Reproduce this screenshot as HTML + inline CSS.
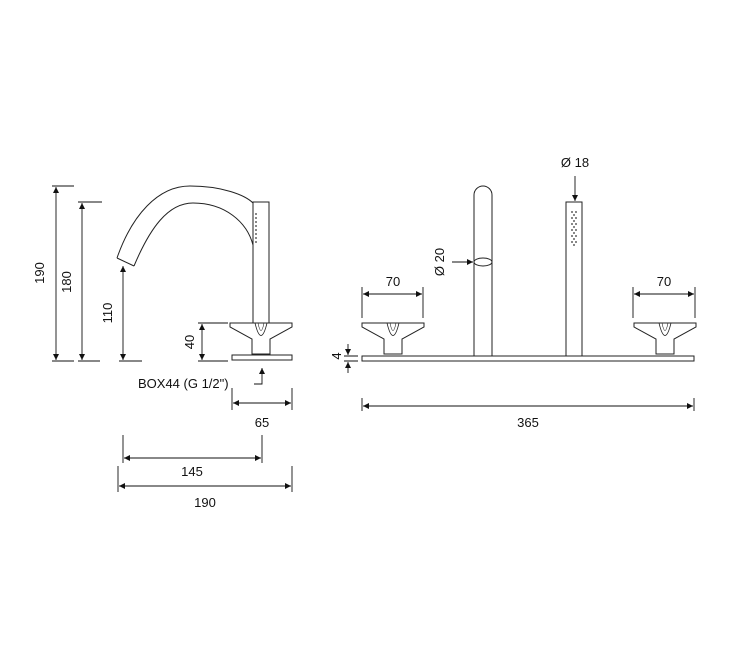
<!DOCTYPE html>
<html><head><meta charset="utf-8"><style>
html,body{margin:0;padding:0;background:#fff;}
svg{display:block;}
text{font-family:"Liberation Sans",sans-serif;font-size:13px;fill:#111;}
</style></head><body>
<svg width="744" height="648" viewBox="0 0 744 648" xmlns="http://www.w3.org/2000/svg">
<defs>
<marker id="a" viewBox="0 0 10 10" refX="10" refY="5" markerWidth="8" markerHeight="6" orient="auto-start-reverse" markerUnits="userSpaceOnUse"><path d="M0,0 L10,5 L0,10 Z" fill="#111"/></marker>
<g id="h">
<path d="M-31,323 H31 V327 L9,339 V354 H-9 V339 L-31,327 Z" fill="#fff" stroke="#222" stroke-width="1"/>
<path d="M-6,323 Q0,348 6,323" fill="none" stroke="#222" stroke-width="0.8"/>
<path d="M-3,323 Q0,338 3,323" fill="none" stroke="#222" stroke-width="0.6"/>
</g>
</defs>
<g stroke="#222" stroke-width="1" fill="none">
<path d="M117,258 C132,215 158,186 190,186 C222,186 245,195 253,203"/>
<path d="M134,266 C150,228 168,203 193,203 C225,203 247,222 253,245"/>
<path d="M117,258 L134,266"/>
<rect x="253" y="202" width="16" height="152" fill="#fff"/>
<use href="#h" x="261"/>
<rect x="232" y="355" width="60" height="5" fill="#fff"/>
</g>
<g fill="#333"><circle cx="256" cy="214" r="0.9"/><circle cx="256" cy="218" r="0.9"/><circle cx="256" cy="222" r="0.9"/><circle cx="256" cy="226" r="0.9"/><circle cx="256" cy="230" r="0.9"/><circle cx="256" cy="234" r="0.9"/><circle cx="256" cy="238" r="0.9"/><circle cx="256" cy="242" r="0.9"/></g>
<g stroke="#111" stroke-width="0.9" fill="none">
<path d="M52,186 H74 M52,361 H74"/>
<line x1="56" y1="187" x2="56" y2="360" marker-start="url(#a)" marker-end="url(#a)"/>
<path d="M78,202 H102 M78,361 H100"/>
<line x1="82" y1="203" x2="82" y2="360" marker-start="url(#a)" marker-end="url(#a)"/>
<path d="M119,361 H142"/>
<line x1="123" y1="266" x2="123" y2="360" marker-start="url(#a)" marker-end="url(#a)"/>
<path d="M198,323 H228 M198,361 H228"/>
<line x1="202" y1="324" x2="202" y2="360" marker-start="url(#a)" marker-end="url(#a)"/>
<path d="M254,384 H262 V368" marker-end="url(#a)"/>
<path d="M232,388 V410 M292,388 V410"/>
<line x1="233" y1="403" x2="291" y2="403" marker-start="url(#a)" marker-end="url(#a)"/>
<path d="M123,435 V463 M262,435 V463"/>
<line x1="124" y1="458" x2="261" y2="458" marker-start="url(#a)" marker-end="url(#a)"/>
<path d="M118,466 V492 M292,466 V492"/>
<line x1="119" y1="486" x2="291" y2="486" marker-start="url(#a)" marker-end="url(#a)"/>
</g>
<text transform="translate(44,273) rotate(-90)" text-anchor="middle">190</text>
<text transform="translate(71,282) rotate(-90)" text-anchor="middle">180</text>
<text transform="translate(112,313) rotate(-90)" text-anchor="middle">110</text>
<text transform="translate(194,342) rotate(-90)" text-anchor="middle">40</text>
<text x="138" y="388">BOX44 (G 1/2")</text>
<text x="262" y="427" text-anchor="middle">65</text>
<text x="192" y="476" text-anchor="middle">145</text>
<text x="205" y="507" text-anchor="middle">190</text>
<g stroke="#222" stroke-width="1" fill="#fff">
<path d="M474,357 V195 A9,9 0 0 1 492,195 V357"/>
<ellipse cx="483" cy="262" rx="9" ry="4"/>
<rect x="566" y="202" width="16" height="155"/>
<use href="#h" x="393"/>
<use href="#h" x="665"/>
<rect x="362" y="356" width="332" height="5"/>
</g>
<g fill="#333">
<circle cx="572" cy="212" r="0.9"/><circle cx="576" cy="212" r="0.9"/><circle cx="574" cy="215" r="0.9"/>
<circle cx="572" cy="218" r="0.9"/><circle cx="576" cy="218" r="0.9"/><circle cx="574" cy="221" r="0.9"/>
<circle cx="572" cy="224" r="0.9"/><circle cx="576" cy="224" r="0.9"/><circle cx="574" cy="227" r="0.9"/>
<circle cx="572" cy="230" r="0.9"/><circle cx="576" cy="230" r="0.9"/><circle cx="574" cy="233" r="0.9"/>
<circle cx="572" cy="236" r="0.9"/><circle cx="576" cy="236" r="0.9"/><circle cx="574" cy="239" r="0.9"/>
<circle cx="572" cy="242" r="0.9"/><circle cx="576" cy="242" r="0.9"/><circle cx="574" cy="245" r="0.9"/>
</g>
<g stroke="#111" stroke-width="0.9" fill="none">
<line x1="452" y1="262" x2="473" y2="262" marker-end="url(#a)"/>
<line x1="575" y1="176" x2="575" y2="201" marker-end="url(#a)"/>
<path d="M362,287 V318 M423,287 V318"/>
<line x1="363" y1="294" x2="422" y2="294" marker-start="url(#a)" marker-end="url(#a)"/>
<path d="M633,287 V318 M695,287 V318"/>
<line x1="634" y1="294" x2="694" y2="294" marker-start="url(#a)" marker-end="url(#a)"/>
<path d="M344,356 H358 M344,361 H358"/>
<line x1="348" y1="344" x2="348" y2="355" marker-end="url(#a)"/>
<line x1="348" y1="373" x2="348" y2="362" marker-end="url(#a)"/>
<path d="M362,398 V411 M694,398 V411"/>
<line x1="363" y1="406" x2="693" y2="406" marker-start="url(#a)" marker-end="url(#a)"/>
</g>
<text transform="translate(444,262) rotate(-90)" text-anchor="middle">Ø 20</text>
<text x="575" y="167" text-anchor="middle">Ø 18</text>
<text x="393" y="286" text-anchor="middle">70</text>
<text x="664" y="286" text-anchor="middle">70</text>
<text transform="translate(341,356) rotate(-90)" text-anchor="middle">4</text>
<text x="528" y="427" text-anchor="middle">365</text>
</svg>
</body></html>
